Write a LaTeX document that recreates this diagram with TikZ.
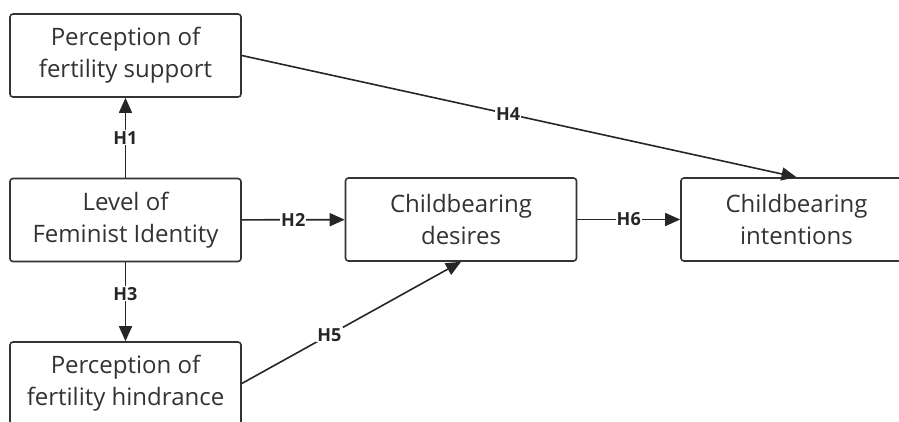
\documentclass[tikz,border=0pt]{standalone}
\usepackage{fontspec}
\setmainfont{Open Sans}
\usetikzlibrary{arrows.meta, positioning}

\tikzset{
  factor/.style={draw=black!80, line width=1.6pt, rounded corners=3pt, fill=white,
    minimum width=231pt, minimum height=83pt, align=center, inner sep=0pt,
    font=\fontsize{24}{32}\selectfont, text=black!80},
  path/.style={draw=black!85, line width=1.6pt, -{Triangle[length=15pt, width=13pt]}},
  hyp/.style={fill=white, inner sep=1pt, font=\bfseries\fontsize{18}{18}\selectfont, text=black!85}
}

\begin{document}
\begin{tikzpicture}[x=1pt, y=-1pt]
    % Frame
    \useasboundingbox (0,0) rectangle (899,421);
    \clip (0,0) rectangle (899,421);

    % Factors
    \node[factor] (support) at (125.5,55.5) {Perception of\\fertility support};
    \node[factor] (level) at (125.5,220) {Level of\\Feminist Identity};
    \node[factor] (hindrance) at (125.5,383.5) {Perception of\\fertility hindrance};
    \node[factor] (desires) at (461,219.5) {Childbearing\\desires};
    \node[factor] (intentions) at (796.5,219.5) {Childbearing\\intentions};

    % Hypotheses
    \draw[path] (level) -- node[hyp] {H1} (support);
    \draw[path] (level) -- node[hyp] {H2} (desires);
    \draw[path] (level) -- node[hyp, pos=0.4] {H3} (hindrance);
    \draw[path] (support.east) -- node[hyp, pos=0.48] {H4} (intentions.north);
    \draw[path] (hindrance.east) -- node[hyp, pos=0.4] {H5} (desires.south);
    \draw[path] (desires) -- node[hyp] {H6} (intentions);
\end{tikzpicture}
\end{document}
